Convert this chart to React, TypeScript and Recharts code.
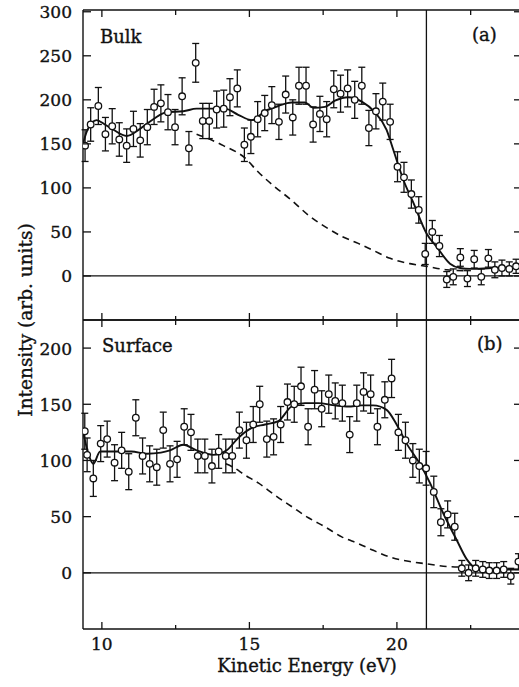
import React from 'react';
import { ComposedChart, Line, Scatter, ErrorBar, XAxis, YAxis, ReferenceLine } from 'recharts';

const FONT = "'DejaVu Serif', serif";

const X_TICKS = [10, 12.5, 15, 17.5, 20, 22.5];
const X_LABELED = [10, 15, 20];
const X_DOMAIN: [number, number] = [9.36, 24.24];
const EDGE_ENERGY = 21;

const BULK_Y_TICKS = [0, 50, 100, 150, 200, 250, 300];
const BULK_Y_DOMAIN: [number, number] = [-50, 302];
const SURF_Y_TICKS = [0, 50, 100, 150, 200];
const SURF_Y_DOMAIN: [number, number] = [-50, 225];

// [energy, intensity, error]
const bulkPoints: [number, number, number][] = [
  [9.43, 148, 18], [9.62, 172, 19], [9.88, 193, 21], [10.12, 161, 19], [10.35, 170, 20],
  [10.59, 155, 19], [10.84, 148, 19], [11.07, 167, 20], [11.3, 154, 19], [11.54, 169, 20],
  [11.77, 192, 20], [12.0, 196, 21], [12.24, 186, 20], [12.48, 169, 20], [12.72, 204, 21],
  [12.95, 145, 19], [13.18, 242, 22], [13.42, 176, 20], [13.64, 176, 20], [13.89, 189, 21],
  [14.13, 190, 21], [14.34, 203, 21], [14.59, 213, 21], [14.83, 149, 19], [15.05, 158, 19],
  [15.28, 178, 20], [15.52, 185, 20], [15.76, 194, 21], [16.0, 175, 20], [16.23, 206, 21],
  [16.47, 180, 20], [16.68, 216, 21], [16.92, 216, 21], [17.16, 172, 20], [17.39, 184, 20],
  [17.62, 178, 20], [17.86, 212, 21], [18.09, 207, 21], [18.33, 213, 21], [18.57, 200, 21],
  [18.81, 216, 21], [19.05, 168, 20], [19.29, 187, 20], [19.52, 198, 21], [19.77, 175, 20],
  [20.02, 124, 17], [20.24, 112, 17], [20.49, 93, 16], [20.74, 75, 15], [20.96, 25, 12],
  [21.2, 50, 13], [21.44, 34, 12], [21.69, -4, 9], [21.91, -1, 9], [22.15, 21, 10],
  [22.39, -3, 9], [22.62, 19, 10], [22.86, -1, 9], [23.1, 20, 10], [23.32, 7, 9],
  [23.56, 9, 9], [23.81, 8, 8], [24.04, 11, 8],
];

const bulkFit: [number, number][] = [
  [9.36, 150], [9.5, 165], [9.82, 177], [10.1, 172], [10.39, 166], [10.84, 159], [11.29, 167],
  [11.74, 178], [12.2, 186], [12.76, 187], [13.21, 190], [13.99, 190], [14.17, 190],
  [14.62, 183], [15.08, 177], [15.53, 187], [15.98, 193], [16.43, 197], [16.88, 197],
  [17.17, 191], [17.56, 192], [17.9, 199], [18.35, 203], [18.81, 198], [19.25, 186],
  [19.65, 166], [19.88, 143], [20.22, 109], [20.56, 83], [21.01, 48], [21.35, 33],
  [21.8, 14], [22.14, 9], [22.5, 8], [23.2, 9], [24.24, 10],
];

const bulkBackground: [number, number][] = [
  [13.21, 161], [13.6, 156], [14.12, 148], [14.85, 134], [15.3, 118], [15.87, 101],
  [16.43, 86], [17.0, 69], [17.56, 56], [18.13, 45], [18.69, 37], [19.2, 29], [19.77, 20],
  [20.44, 14], [21.0, 11], [21.69, 7], [22.3, 6],
];

const surfPoints: [number, number, number][] = [
  [9.42, 126, 16], [9.5, 105, 15], [9.71, 84, 16], [9.96, 115, 16], [10.18, 119, 16],
  [10.43, 98, 16], [10.67, 109, 16], [10.91, 90, 16], [11.15, 138, 16], [11.38, 104, 16],
  [11.62, 97, 16], [11.86, 94, 16], [12.08, 127, 16], [12.31, 97, 16], [12.55, 101, 16],
  [12.79, 130, 16], [13.02, 125, 16], [13.25, 104, 15], [13.49, 104, 15], [13.73, 95, 15],
  [13.96, 108, 15], [14.2, 104, 15], [14.42, 104, 15], [14.66, 127, 16], [14.9, 118, 16],
  [15.13, 132, 16], [15.35, 150, 16], [15.59, 119, 16], [15.82, 121, 16], [16.06, 132, 16],
  [16.29, 152, 16], [16.52, 150, 16], [16.75, 166, 17], [16.99, 130, 16], [17.21, 163, 17],
  [17.45, 146, 16], [17.69, 159, 17], [17.91, 153, 16], [18.15, 151, 16], [18.4, 123, 16],
  [18.64, 151, 16], [18.87, 161, 17], [19.11, 159, 17], [19.34, 130, 16], [19.59, 154, 16],
  [19.82, 173, 17], [20.05, 125, 16], [20.29, 118, 16], [20.54, 100, 15], [20.76, 95, 15],
  [20.99, 93, 15], [21.25, 72, 14], [21.49, 45, 12], [21.72, 52, 12], [21.96, 41, 12],
  [22.2, 4, 7], [22.43, 0, 7], [22.67, 4, 7], [22.91, 3, 7], [23.13, 2, 7], [23.38, 2, 7],
  [23.62, 3, 7], [23.86, -3, 7], [24.12, 10, 7],
];

const surfFit: [number, number][] = [
  [9.36, 126], [9.5, 110], [9.71, 97], [9.94, 108], [10.5, 108], [11.0, 108], [11.52, 106],
  [12.0, 107], [12.31, 109], [12.76, 114], [13.21, 109], [13.77, 105], [14.0, 106],
  [14.23, 109], [14.62, 120], [15.08, 129], [15.53, 132], [15.98, 135], [16.43, 148],
  [16.88, 151], [17.33, 151], [17.9, 149], [18.35, 148], [18.8, 149], [19.2, 149],
  [19.65, 145], [19.99, 132], [20.33, 115], [20.78, 97], [21.12, 80], [21.57, 53],
  [22.03, 29], [22.37, 12], [22.7, 4], [23.5, 3], [24.24, 3],
];

const surfBackground: [number, number][] = [
  [14.2, 97], [14.45, 94], [14.85, 87], [15.3, 80], [15.87, 69], [16.43, 59], [17.0, 49],
  [17.56, 41], [18.13, 32], [18.69, 26], [19.2, 20], [19.77, 14], [20.44, 10], [21.0, 8],
  [21.69, 5.6], [22.3, 5],
];

const INK = '#111';
const TEXT_STROKE = 0.35;

const isMajorX = (v: number) => X_LABELED.includes(v);

const LeftTick = (p: any) => {
  const { x, y, payload } = p;
  return (
    <g>
      <line x1={x} x2={x + 8} y1={y} y2={y} stroke={INK} strokeWidth={1.3} />
      <text
        x={x - 11}
        y={y + 6.5}
        textAnchor="end"
        fontFamily={FONT}
        fontSize={17}
        fill={INK}
        stroke={INK}
        strokeWidth={TEXT_STROKE}
      >
        {payload.value}
      </text>
    </g>
  );
};

const RightTick = (p: any) => {
  const { x, y } = p;
  return <line x1={x - 8} x2={x} y1={y} y2={y} stroke={INK} strokeWidth={1.3} />;
};

const TopTick = (p: any) => {
  const { x, y, payload } = p;
  const len = isMajorX(payload.value) ? 7 : 5;
  return <line x1={x} x2={x} y1={y} y2={y + len} stroke={INK} strokeWidth={1.3} />;
};

const makeBottomTick = (showLabel: boolean) => (p: any) => {
  const { x, y, payload } = p;
  const major = isMajorX(payload.value);
  const len = major ? 7 : 4;
  return (
    <g>
      <line x1={x} x2={x} y1={y} y2={y - len} stroke={INK} strokeWidth={1.3} />
      {showLabel && major ? (
        <text
          x={x}
          y={y + 21}
          textAnchor="middle"
          fontFamily={FONT}
          fontSize={17}
          fill={INK}
          stroke={INK}
          strokeWidth={TEXT_STROKE}
        >
          {payload.value}
        </text>
      ) : null}
    </g>
  );
};

const OpenCircle = (p: any) => {
  const { cx, cy } = p;
  if (cx == null || cy == null) return null;
  return <circle cx={cx} cy={cy} r={3.3} fill="#fff" stroke={INK} strokeWidth={1.3} />;
};

type PanelProps = {
  top: number;
  height: number;
  marginTop: number;
  bottomAxisHeight: number;
  yDomain: [number, number];
  yTicks: number[];
  points: [number, number, number][];
  fit: [number, number][];
  background: [number, number][];
  showXLabels: boolean;
};

function Panel(props: PanelProps) {
  const { top, height, marginTop, bottomAxisHeight, yDomain, yTicks, points, fit, background, showXLabels } = props;
  const pts = points.map(([x, y, e]) => ({ x, y, e }));
  const fitData = fit.map(([x, y]) => ({ x, y }));
  const bgData = background.map(([x, y]) => ({ x, y }));
  const axisLine = { stroke: INK, strokeWidth: 1.4 };
  return (
    <div style={{ position: 'absolute', left: 0, top }}>
      <ComposedChart width={560} height={height} margin={{ top: marginTop, right: 28, bottom: 0, left: 23 }}>
        <XAxis
          xAxisId="b"
          type="number"
          dataKey="x"
          domain={X_DOMAIN}
          allowDataOverflow
          ticks={X_TICKS}
          interval={0}
          orientation="bottom"
          height={bottomAxisHeight}
          tickSize={0}
          tickMargin={0}
          tickLine={false}
          axisLine={axisLine}
          tick={makeBottomTick(showXLabels)}
        />
        <XAxis
          xAxisId="t"
          type="number"
          dataKey="x"
          domain={X_DOMAIN}
          allowDataOverflow
          ticks={X_TICKS}
          interval={0}
          orientation="top"
          height={10}
          tickSize={0}
          tickMargin={0}
          tickLine={false}
          axisLine={axisLine}
          tick={TopTick}
        />
        <YAxis
          yAxisId="l"
          type="number"
          domain={yDomain}
          allowDataOverflow
          ticks={yTicks}
          interval={0}
          width={60}
          tickSize={0}
          tickMargin={0}
          tickLine={false}
          axisLine={axisLine}
          tick={LeftTick}
        />
        <YAxis
          yAxisId="r"
          orientation="right"
          type="number"
          domain={yDomain}
          allowDataOverflow
          ticks={yTicks}
          interval={0}
          width={10}
          tickSize={0}
          tickMargin={0}
          tickLine={false}
          axisLine={axisLine}
          tick={RightTick}
        />
        <ReferenceLine xAxisId="b" yAxisId="l" y={0} stroke={INK} strokeWidth={1.3} />
        <ReferenceLine xAxisId="b" yAxisId="l" x={EDGE_ENERGY} stroke={INK} strokeWidth={1.3} />
        <Line
          xAxisId="b"
          yAxisId="l"
          data={bgData}
          dataKey="y"
          type="monotone"
          stroke={INK}
          strokeWidth={1.6}
          strokeDasharray="7 5"
          dot={false}
          activeDot={false}
          isAnimationActive={false}
        />
        <Line
          xAxisId="b"
          yAxisId="l"
          data={fitData}
          dataKey="y"
          type="monotone"
          stroke={INK}
          strokeWidth={1.9}
          dot={false}
          activeDot={false}
          isAnimationActive={false}
        />
        <Scatter
          xAxisId="b"
          yAxisId="l"
          data={pts}
          dataKey="y"
          shape={OpenCircle}
          isAnimationActive={false}
        >
          <ErrorBar dataKey="e" direction="y" width={3.5} stroke={INK} strokeWidth={1.3} />
        </Scatter>
      </ComposedChart>
    </div>
  );
}

export default function App() {
  return (
    <div
      style={{
        position: 'absolute',
        left: 0,
        top: 0,
        width: 519,
        height: 687,
        overflow: 'hidden',
        background: '#fff',
      }}
    >
      <Panel
        top={0}
        height={330}
        marginTop={0}
        bottomAxisHeight={10}
        yDomain={BULK_Y_DOMAIN}
        yTicks={BULK_Y_TICKS}
        points={bulkPoints}
        fit={bulkFit}
        background={bulkBackground}
        showXLabels={false}
      />
      <Panel
        top={300}
        height={370}
        marginTop={10}
        bottomAxisHeight={41}
        yDomain={SURF_Y_DOMAIN}
        yTicks={SURF_Y_TICKS}
        points={surfPoints}
        fit={surfFit}
        background={surfBackground}
        showXLabels={true}
      />
      <svg
        width={519}
        height={687}
        style={{ position: 'absolute', left: 0, top: 0, pointerEvents: 'none' }}
        fontFamily={FONT}
        fill={INK}
        stroke={INK}
        strokeWidth={TEXT_STROKE}
      >
        <text x={100} y={43} fontSize={18}>Bulk</text>
        <text x={472} y={41} fontSize={18}>(a)</text>
        <text x={102} y={352} fontSize={18}>Surface</text>
        <text x={477} y={350} fontSize={18}>(b)</text>
        <text x={32} y={320} transform="rotate(-90 32 320)" textAnchor="middle" fontSize={18.5}>
          Intensity (arb. units)
        </text>
        <text x={307} y={672} textAnchor="middle" fontSize={18}>Kinetic Energy (eV)</text>
      </svg>
    </div>
  );
}
